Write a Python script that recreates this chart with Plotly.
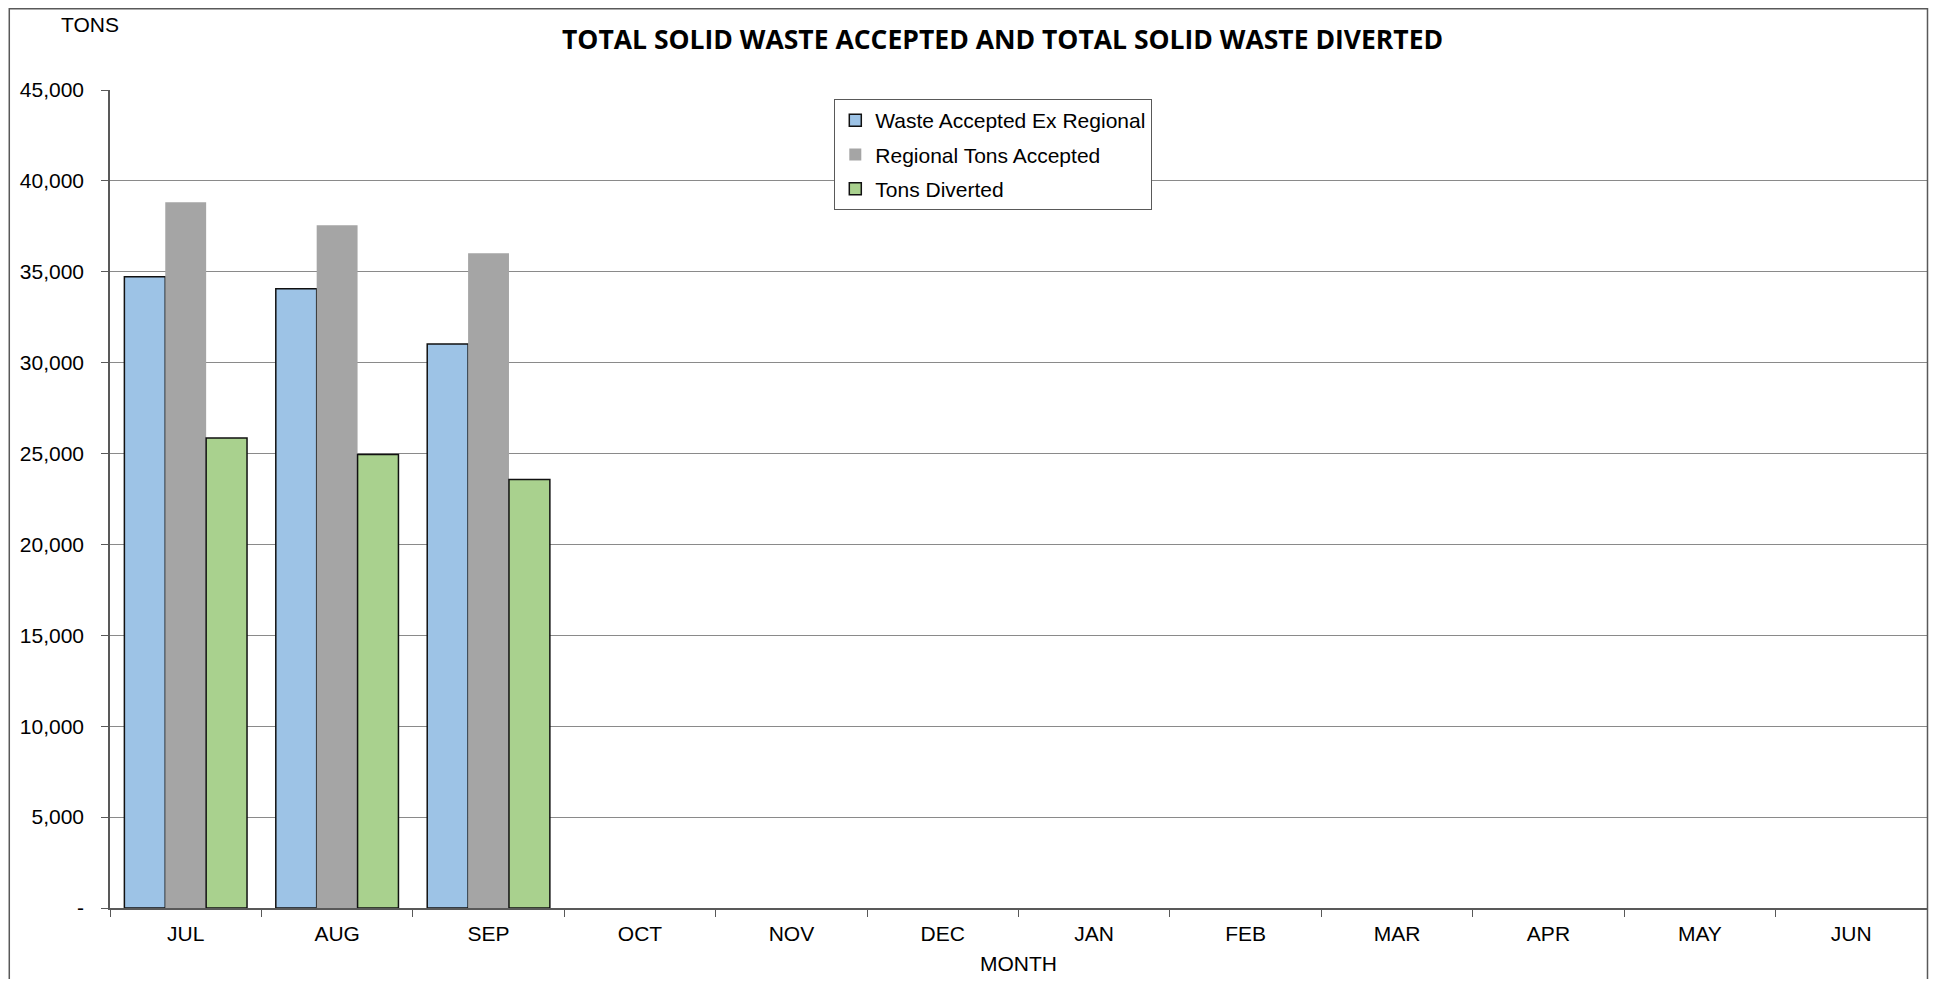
import plotly.graph_objects as go

months = ["JUL", "AUG", "SEP", "OCT", "NOV", "DEC", "JAN", "FEB", "MAR", "APR", "MAY", "JUN"]
waste_ex_regional = [34720, 34060, 31030, None, None, None, None, None, None, None, None, None]
regional_tons = [38830, 37560, 36020, None, None, None, None, None, None, None, None, None]
tons_diverted = [25860, 24950, 23570, None, None, None, None, None, None, None, None, None]

y_tickvals = [0, 5000, 10000, 15000, 20000, 25000, 30000, 35000, 40000, 45000]
y_ticktext = ["-", "5,000", "10,000", "15,000", "20,000", "25,000", "30,000", "35,000", "40,000", "45,000"]

FONT = "Liberation Sans, Arial, sans-serif"

fig = go.Figure()
fig.add_trace(go.Bar(x=months, y=waste_ex_regional, name="Waste Accepted Ex Regional",
                     marker=dict(color="#9DC3E6", line=dict(color="#111111", width=1.5)),
                     legendgroup="a"))
fig.add_trace(go.Bar(x=months, y=regional_tons, name="Regional Tons Accepted",
                     marker=dict(color="#A5A5A5", line=dict(color="#A5A5A5", width=0)),
                     legendgroup="b"))
fig.add_trace(go.Bar(x=months, y=tons_diverted, name="Tons Diverted",
                     marker=dict(color="#A9D18E", line=dict(color="#111111", width=1.5)),
                     legendgroup="c"))

# page has an 8px body margin; figure sized so that page = figure + 8
OFF = 8
W, H = 1937 - 2 * OFF, 987 - 2 * OFF
PL, PR, PT, PB = 109.5, 1927, 90, 908  # plot area in page pixels
L, R, T, B = PL - OFF, W - (PR - OFF), PT - OFF, H - (PB - OFF)
pw = W - L - R
ph = H - T - B

def px2x(px):
    return (px - OFF - L) / pw

def py2y(py):
    return (H - B - (py - OFF)) / ph

fig.update_layout(
    width=W, height=H,
    margin=dict(l=L, r=R, t=T, b=B, pad=0),
    paper_bgcolor="white", plot_bgcolor="white",
    font=dict(family=FONT, size=21, color="#000000"),
    barmode="group", bargap=0.19, bargroupgap=0,
    showlegend=True,
    legend=dict(x=px2x(834), y=py2y(99), xanchor="left", yanchor="top",
                bgcolor="white", bordercolor="#595959", borderwidth=1,
                font=dict(family=FONT, size=21, color="#000000"),
                tracegroupgap=4, traceorder="grouped"),
    xaxis=dict(type="category", categoryorder="array", categoryarray=months,
               tickson="boundaries", ticks="outside", ticklen=7, tickcolor="#595959",
               showline=True, linecolor="#595959", linewidth=1.5,
               showgrid=False, zeroline=False, tickfont=dict(family=FONT, size=21),
               ticklabelstandoff=6,
               title=dict(text="MONTH", font=dict(family=FONT, size=21), standoff=12)),
    yaxis=dict(range=[0, 45000], tickvals=y_tickvals, ticktext=y_ticktext,
               ticks="outside", ticklen=7, tickcolor="#595959",
               showline=True, linecolor="#595959", linewidth=1.5,
               showgrid=True, gridcolor="#8A8A8A", gridwidth=1.2, zeroline=False,
               tickfont=dict(family=FONT, size=21), ticklabelstandoff=13),
    annotations=[
        dict(text="<b>TOTAL SOLID WASTE ACCEPTED AND TOTAL SOLID WASTE DIVERTED</b>",
             xref="paper", yref="paper", x=px2x(1002), y=py2y(39),
             xanchor="center", yanchor="middle", showarrow=False,
             font=dict(family="Open Sans, sans-serif", size=26.5, color="#000000")),
        dict(text="TONS", xref="paper", yref="paper", x=px2x(89), y=py2y(25),
             xanchor="center", yanchor="middle", showarrow=False,
             font=dict(family=FONT, size=21, color="#000000")),
    ],
    shapes=[
        dict(type="rect", xref="paper", yref="paper",
             x0=px2x(OFF + 0.75), x1=px2x(1927.5), y0=py2y(1010), y1=py2y(OFF + 0.75),
             line=dict(color="#595959", width=1.5), fillcolor="rgba(0,0,0,0)",
             layer="above"),
    ],
)

fig.write_html("out.html")
